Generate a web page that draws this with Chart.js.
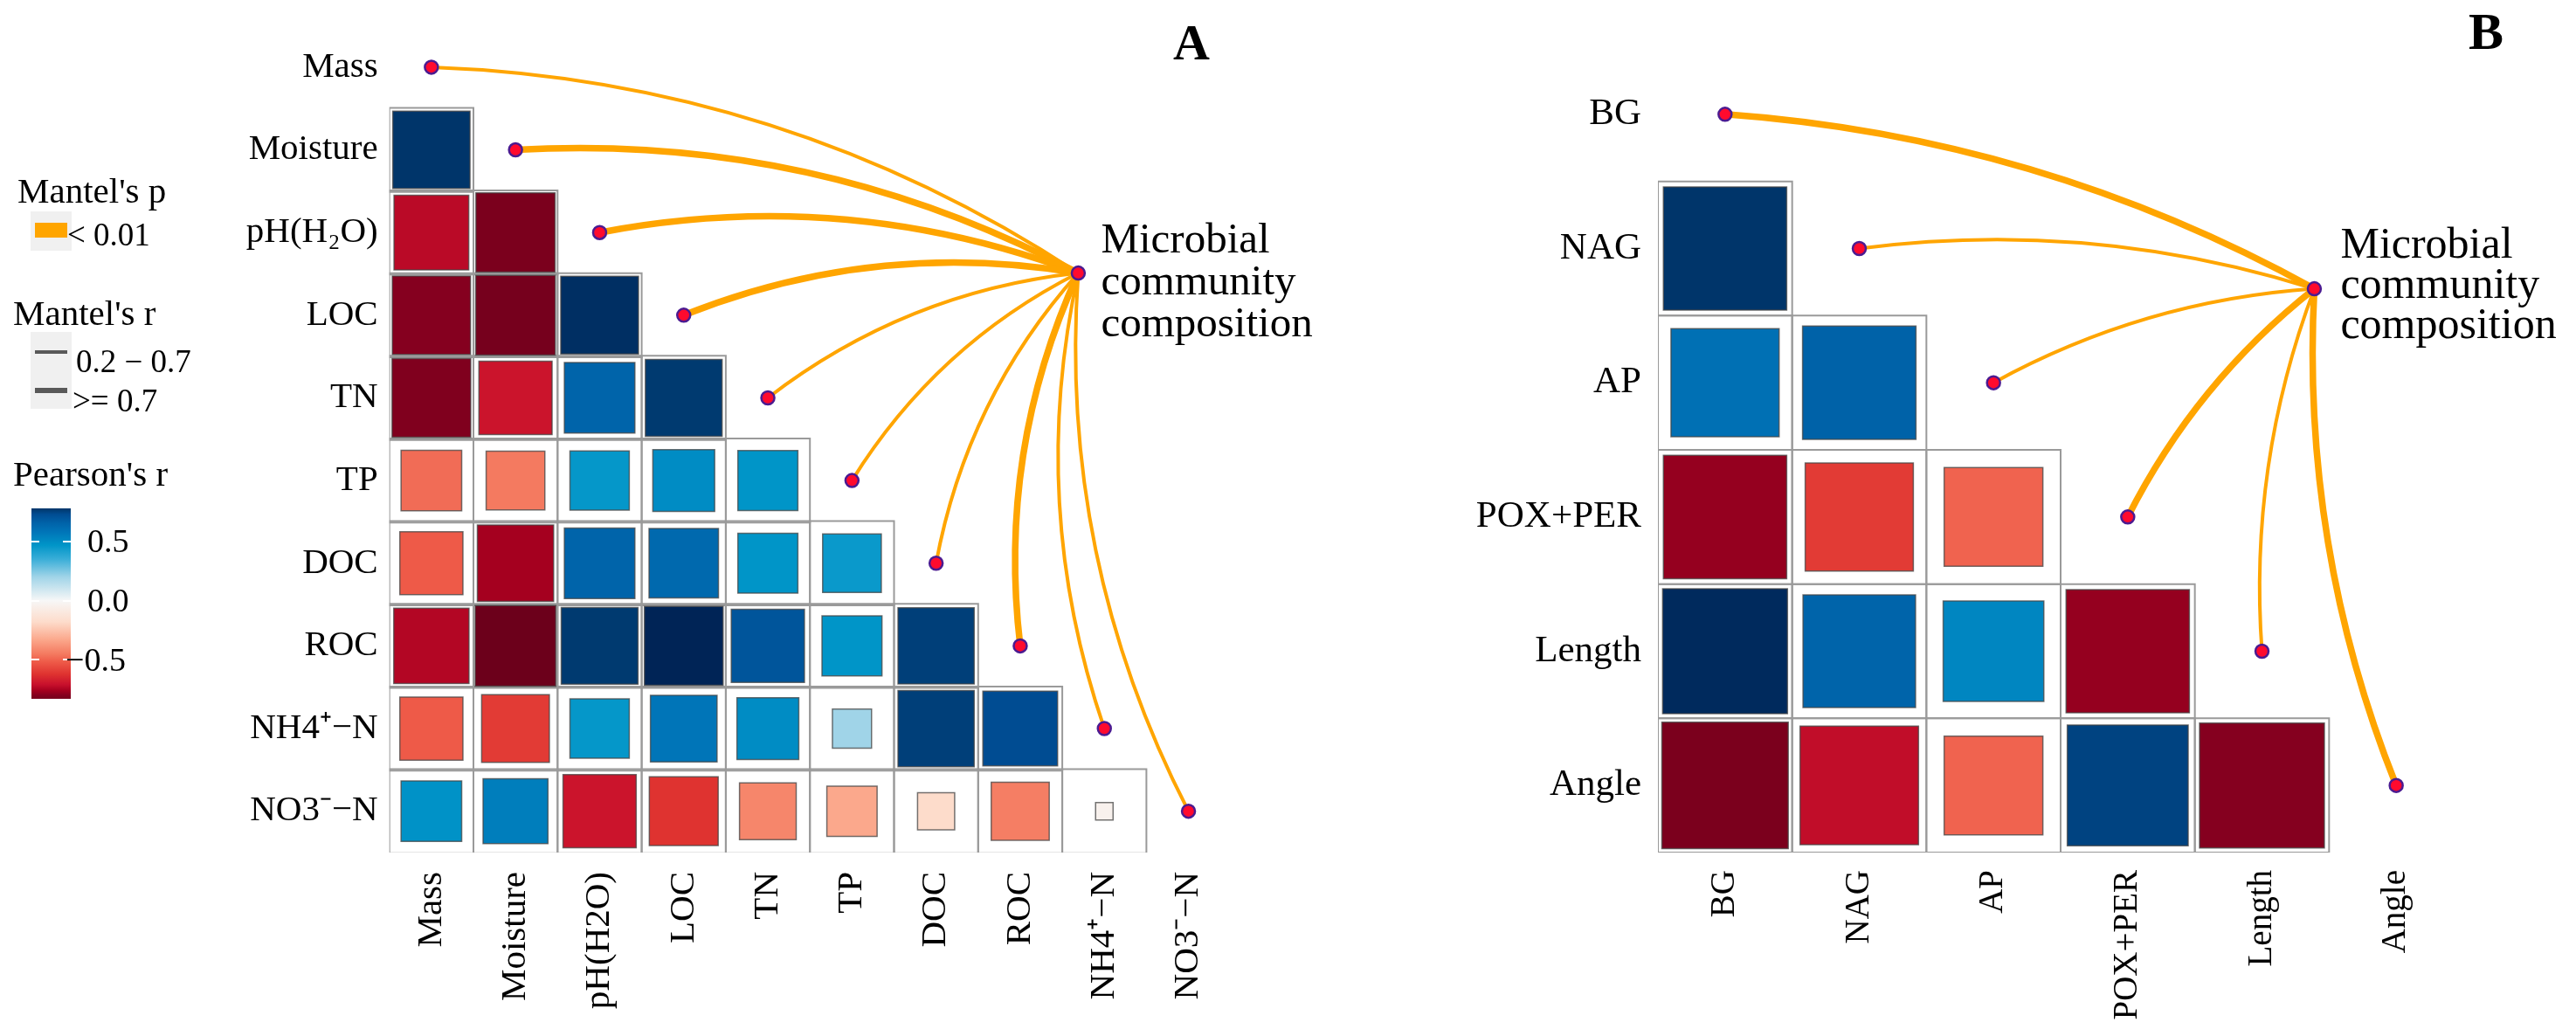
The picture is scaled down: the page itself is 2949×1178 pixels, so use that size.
<!DOCTYPE html>
<html><head><meta charset="utf-8">
<script src="https://cdn.jsdelivr.net/npm/chart.js@4.4.1/dist/chart.umd.min.js"></script>
<style>
html,body{margin:0;padding:0;background:#fff;}
#wrap{position:relative;width:2949px;height:1178px;overflow:hidden;background:#fff;font-family:"Liberation Serif","Times New Roman",serif;color:#000;}
canvas{position:absolute;top:0;}
#cA{left:0;}
#cB{left:1600px;}
.lg{position:absolute;white-space:nowrap;line-height:1;}
</style></head>
<body><div id="wrap">
<canvas id="cA" width="1600" height="1178" style="width:1600px;height:1178px"></canvas>
<canvas id="cB" width="1349" height="1178" style="width:1349px;height:1178px"></canvas>
<div id="legend"></div>
</div>
<script>
// ---------------- DATA ----------------
const yLabelsA = ['Mass','Moisture','pH(H\u2082O)','LOC','TN','TP','DOC','ROC','NH4\u207A\u2212N','NO3\u207B\u2212N'];
const xLabelsA = ['Mass','Moisture','pH(H2O)','LOC','TN','TP','DOC','ROC','NH4\u207A\u2212N','NO3\u207B\u2212N'];
// lower-triangle Pearson's r, one array per row (columns start at Mass)
const rA_Mass     = [];
const rA_Moisture = [0.78];
const rA_pH       = [-0.73, -0.82];
const rA_LOC      = [-0.80, -0.83, 0.79];
const rA_TN       = [-0.81, -0.70, 0.65, 0.77];
const rA_TP       = [-0.48, -0.45, 0.46, 0.50, 0.47];
const rA_DOC      = [-0.52, -0.76, 0.65, 0.63, 0.47, 0.45];
const rA_ROC      = [-0.74, -0.85, 0.77, 0.81, 0.70, 0.47, 0.76];
const rA_NH4      = [-0.52, -0.60, 0.46, 0.58, 0.50, 0.20, 0.76, 0.73];
const rA_NO3      = [0.48, 0.55, -0.70, -0.62, -0.42, -0.33, -0.18, -0.44, -0.04];
const mantelA     = ['0.2-0.7','>=0.7','>=0.7','>=0.7','0.2-0.7','0.2-0.7','0.2-0.7','>=0.7','0.2-0.7','0.2-0.7'];

const labelsB = ['BG','NAG','AP','POX+PER','Length','Angle'];
const rB_BG     = [];
const rB_NAG    = [0.78];
const rB_AP     = [0.60, 0.66];
const rB_POX    = [-0.78, -0.60, -0.50];
const rB_Length = [0.80, 0.65, 0.52, -0.78];
const rB_Angle  = [-0.82, -0.72, -0.50, 0.75, -0.80];
const mantelB   = ['>=0.7','0.2-0.7','0.2-0.7','>=0.7','0.2-0.7','>=0.7'];

const colorTicks = [0.5, 0.0, -0.5];
const pLegend = ['< 0.01'];
const rLegend = ['0.2 \u2212 0.7', '>= 0.7'];
const targetName = ['Microbial','community','composition'];

const corrA = [rA_Mass, rA_Moisture, rA_pH, rA_LOC, rA_TN, rA_TP, rA_DOC, rA_ROC, rA_NH4, rA_NO3];
const corrB = [rB_BG, rB_NAG, rB_AP, rB_POX, rB_Length, rB_Angle];

// ---------------- STYLE ----------------
const colorStops = [
 [-0.86,'#67001A'],[-0.80,'#85001F'],[-0.76,'#A5001F'],[-0.71,'#C8102C'],[-0.62,'#DF3330'],
 [-0.52,'#EE5A48'],[-0.45,'#F47A60'],[-0.33,'#FBA88C'],[-0.18,'#FDDCCB'],[0,'#F7F7F7'],
 [0.2,'#A0D4E8'],[0.35,'#3AAED8'],[0.47,'#0095C8'],[0.58,'#0075B8'],[0.66,'#0062A8'],
 [0.73,'#004C92'],[0.77,'#003A70'],[0.81,'#002456']];
function hex2rgb(h){return [parseInt(h.slice(1,3),16),parseInt(h.slice(3,5),16),parseInt(h.slice(5,7),16)];}
function colorFor(v){
  if (v <= colorStops[0][0]) return colorStops[0][1];
  for (let i=1;i<colorStops.length;i++){
    if (v <= colorStops[i][0]){
      const [a,ca]=colorStops[i-1],[b,cb]=colorStops[i];
      const t=(v-a)/(b-a), A=hex2rgb(ca), B=hex2rgb(cb);
      return 'rgb('+A.map((x,k)=>Math.round(x+(B[k]-x)*t)).join(',')+')';
    }
  }
  return colorStops[colorStops.length-1][1];
}
function sideFrac(v){ return Math.min(0.96, 1.04*Math.sqrt(Math.abs(v))); }
function cellPx(chart){ const s=chart.scales.x; return Math.abs(s.getPixelForValue(1)-s.getPixelForValue(0)); }

const FONT = '"Liberation Serif", "Times New Roman", serif';
const ORANGE = '#FFA500';

const mantelPlugin = {
  id: 'mantel',
  beforeDatasetsDraw(chart, args, o) {
    const xs = chart.scales.x, ys = chart.scales.y, ctx = chart.ctx;
    const hx = xs.getPixelForValue(o.hubX), hy = ys.getPixelForValue(o.hubY);
    ctx.save();
    ctx.strokeStyle = ORANGE; ctx.lineCap = 'round';
    o.classes.forEach((cls, i) => {
      const px = xs.getPixelForValue(i), py = ys.getPixelForValue(i);
      const dx = px - hx, dy = py - hy;
      const cx = (hx + px) / 2 - o.curv * dy, cy = (hy + py) / 2 + o.curv * dx;
      ctx.lineWidth = cls === '>=0.7' ? o.thick : o.thin;
      ctx.beginPath(); ctx.moveTo(hx, hy); ctx.quadraticCurveTo(cx, cy, px, py); ctx.stroke();
    });
    ctx.restore();
  },
  afterDraw(chart, args, o) {
    const xs = chart.scales.x, ys = chart.scales.y, ctx = chart.ctx;
    const hx = xs.getPixelForValue(o.hubX), hy = ys.getPixelForValue(o.hubY);
    ctx.save();
    ctx.fillStyle = '#000'; ctx.textBaseline = 'middle'; ctx.textAlign = 'left';
    ctx.font = o.textSize + 'px ' + FONT;
    targetName.forEach((t, k) => ctx.fillText(t, hx + o.textDx, hy + o.textDy + k * o.lineH));
    ctx.font = 'bold ' + o.letterSize + 'px ' + FONT;
    ctx.textAlign = 'center';
    ctx.fillText(o.letter, o.letterX, o.letterY);
    ctx.restore();
  }
};

function buildChart(canvasId, yLabels, xLabels, corr, mantel, geo) {
  const n = yLabels.length;
  const grid = [], squares = [], dots = [];
  corr.forEach((row, i) => row.forEach((v, j) => {
    grid.push({x: j, y: i});
    squares.push({x: j, y: i, v: v});
  }));
  for (let i = 0; i < n; i++) dots.push({x: i, y: i});
  dots.push({x: geo.hubX, y: geo.hubY});
  return new Chart(document.getElementById(canvasId), {
    type: 'scatter',
    data: { datasets: [
      { data: dots, order: 0, pointStyle: 'circle', radius: 7.5,
        backgroundColor: '#FF0A2E', borderColor: '#4B1B91', borderWidth: 2.5 },
      { data: squares, order: 1, pointStyle: 'rect',
        radius: (c) => c.raw ? sideFrac(c.raw.v) * cellPx(c.chart) / Math.SQRT2 : 0,
        backgroundColor: (c) => c.raw ? colorFor(c.raw.v) : 'transparent',
        borderColor: 'rgba(70,70,70,0.75)', borderWidth: 1.5 },
      { data: grid, order: 2, pointStyle: 'rect',
        radius: (c) => cellPx(c.chart) / Math.SQRT2,
        backgroundColor: 'rgba(0,0,0,0)', borderColor: '#9A9A9A', borderWidth: 2 }
    ]},
    options: {
      responsive: false, animation: false, devicePixelRatio: 1, events: [],
      layout: { padding: { left: 0, right: geo.padRight, top: geo.padTop, bottom: 0 } },
      plugins: { legend: { display: false }, tooltip: { enabled: false },
        mantel: { hubX: geo.hubX, hubY: geo.hubY, classes: mantel, curv: geo.curv,
          thin: geo.thin, thick: geo.thick, textSize: geo.textSize, textDx: geo.textDx,
          textDy: geo.textDy, lineH: geo.lineH, letter: geo.letter, letterSize: geo.letterSize,
          letterX: geo.letterX, letterY: geo.letterY } },
      scales: {
        x: { type: 'linear', min: -0.5, max: n - 0.5,
          grid: { display: false }, border: { display: false },
          afterFit: (s) => { s.height = geo.xAxisH; },
          afterBuildTicks: (s) => { s.ticks = xLabels.map((_, i) => ({ value: i })); },
          ticks: { autoSkip: false, minRotation: 90, maxRotation: 90, padding: geo.xPad,
            color: '#000', font: { family: FONT, size: geo.xTickSize },
            callback: (v) => xLabels[v] } },
        y: { type: 'linear', min: -0.5, max: n - 0.5, reverse: true,
          grid: { display: false }, border: { display: false },
          afterFit: (s) => { s.width = geo.yAxisW; },
          afterBuildTicks: (s) => { s.ticks = yLabels.map((_, i) => ({ value: i })); },
          ticks: { autoSkip: false, padding: geo.yPad, color: '#000',
            font: { family: FONT, size: geo.yTickSize },
            callback: (v) => yLabels[v] } }
      }
    },
    plugins: [mantelPlugin]
  });
}

buildChart('cA', yLabelsA, xLabelsA, corrA, mantelA, {
  hubX: 7.69, hubY: 2.49, curv: 0.14, thin: 4, thick: 7.5,
  padRight: 191.3, padTop: 13, xAxisH: 202, yAxisW: 445.7, xPad: 14, yPad: 5,
  xTickSize: 41, yTickSize: 41,
  textSize: 49, textDx: 26, textDy: -36, lineH: 48,
  letter: 'A', letterSize: 58, letterX: 1364, letterY: 53
});
buildChart('cB', labelsB, labelsB, corrB, mantelB, {
  hubX: 4.39, hubY: 1.30, curv: 0.11, thin: 4, thick: 7.5,
  padRight: 129, padTop: 54, xAxisH: 202, yAxisW: 298, xPad: 12, yPad: 11,
  xTickSize: 39, yTickSize: 43,
  textSize: 50, textDx: 30, textDy: -49, lineH: 46,
  letter: 'B', letterSize: 60, letterX: 1246, letterY: 40
});

// ---------------- LEGEND ----------------
(function(){
  const L = document.getElementById('legend');
  function add(html, css){ const d=document.createElement('div'); d.className='lg'; d.innerHTML=html; Object.assign(d.style, css); L.appendChild(d); return d; }
  function txt(t, left, baseline, size){ return add(t, {left: left+'px', top: (baseline - 0.86*size)+'px', fontSize: size+'px'}); }
  txt("Mantel's p", 20, 233, 41);
  add('', {left:'35px', top:'242px', width:'47px', height:'45px', background:'#F0F0F0'});
  add('', {left:'40px', top:'255px', width:'37px', height:'17px', background:ORANGE});
  txt(pLegend[0], 77, 282, 37);
  txt("Mantel's r", 15, 373, 41);
  add('', {left:'35px', top:'380px', width:'47px', height:'88px', background:'#F0F0F0'});
  add('', {left:'40px', top:'401px', width:'37px', height:'3.5px', background:'#595959'});
  add('', {left:'40px', top:'444px', width:'37px', height:'6px', background:'#595959'});
  txt(rLegend[0], 87, 427, 37);
  txt(rLegend[1], 83, 472, 37);
  txt("Pearson's r", 15, 557, 41);
  const top = 582, h = 218, rMax = 0.78, rMin = -0.83;
  const st = colorStops.filter(s => s[0] >= rMin - 0.05 && s[0] <= rMax + 0.05)
    .map(s => s[1] + ' ' + ((s[0]-rMin)/(rMax-rMin)*100).toFixed(1) + '%').join(',');
  add('', {left:'36px', top: top+'px', width:'45px', height: h+'px', background:'linear-gradient(to top,'+st+')'});
  colorTicks.forEach(v => {
    const y = top + (rMax - v)/(rMax - rMin)*h;
    add('', {left:'36px', top:(y-1)+'px', width:'9px', height:'2px', background:'#fff'});
    add('', {left:'72px', top:(y-1)+'px', width:'9px', height:'2px', background:'#fff'});
    const s = v === 0 ? '0.0' : (v < 0 ? '\u2212' + Math.abs(v).toFixed(1) : v.toFixed(1));
    txt(s, v < 0 ? 75 : 100, y + 13, 38);
  });
})();
</script>
</body></html>
